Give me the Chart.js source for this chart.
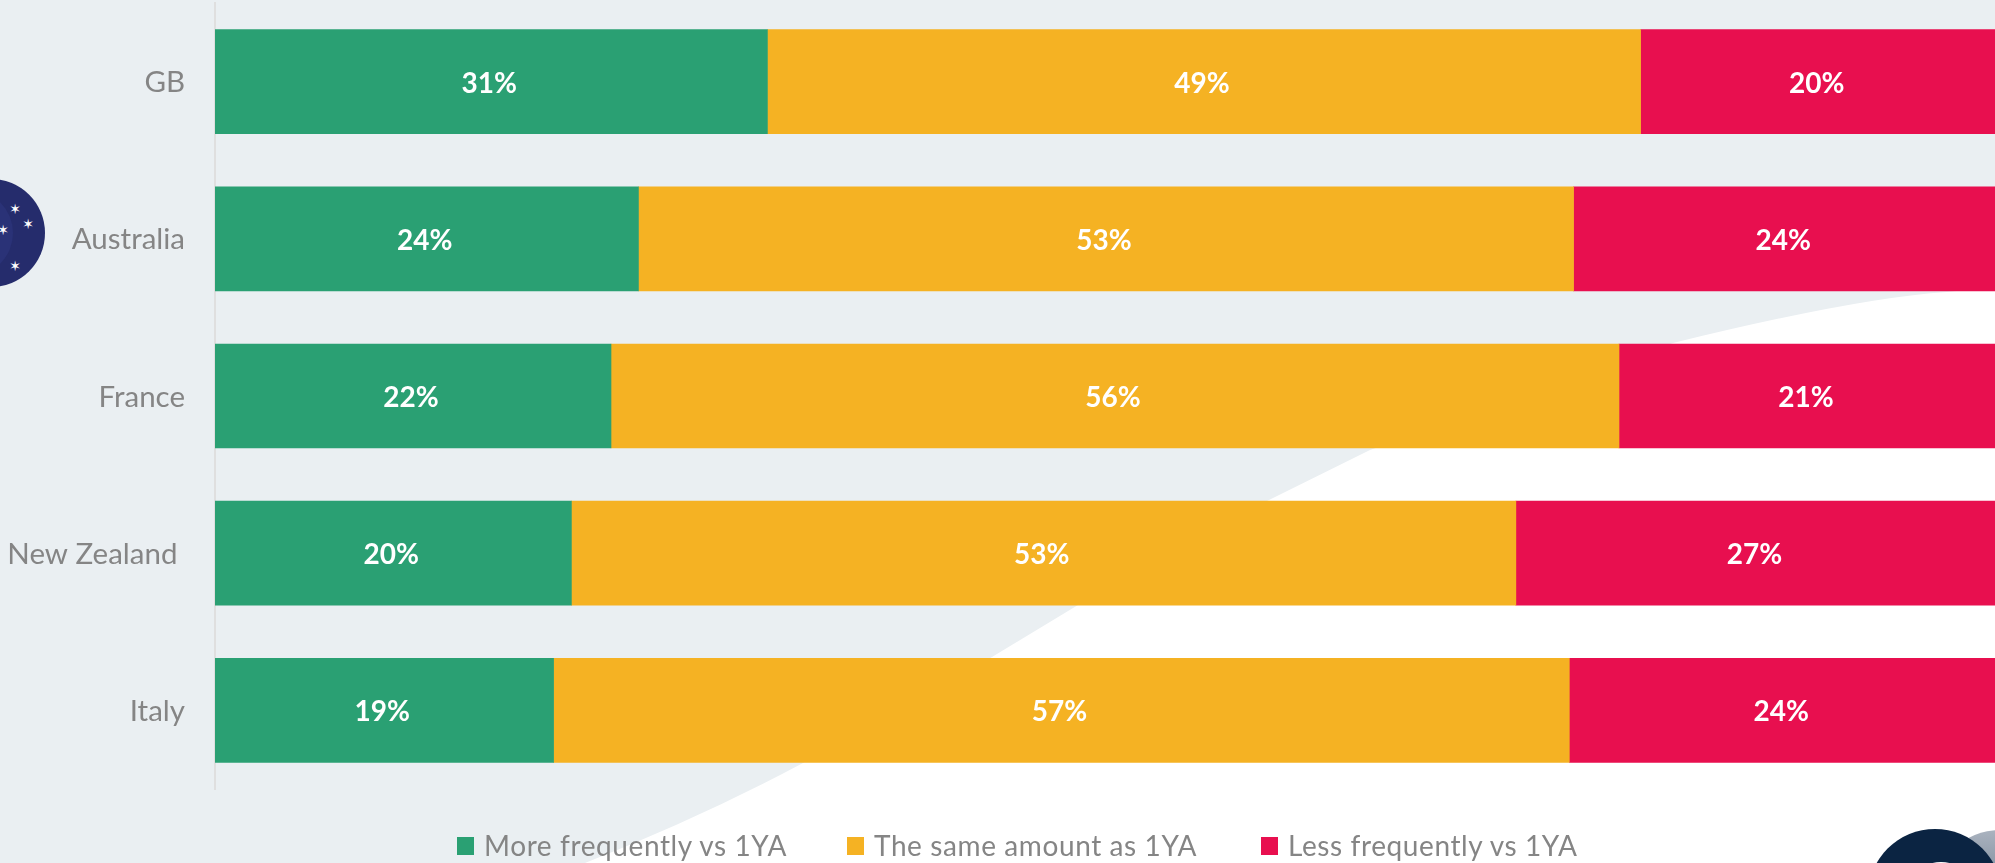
<!DOCTYPE html>
<html>
<head>
<meta charset="utf-8">
<title>Frequency vs 1YA</title>
<script src="https://cdn.jsdelivr.net/npm/chart.js@4/dist/chart.umd.min.js"></script>
<style>
html,body{margin:0;padding:0;width:1995px;height:863px;overflow:hidden;background:#fff;font-family:Lato,sans-serif}
#bg{position:absolute;left:0;top:0}
#wrap{position:absolute;left:0;top:0;width:1995px;height:863px;overflow:hidden}
#chart{position:absolute;left:0;top:0}
#legend{position:absolute;left:0;top:825px;height:40px;white-space:nowrap;font-size:28px;line-height:40px;color:#858585;letter-spacing:.6px}
.item{position:absolute;top:0}
.swatch{position:absolute;top:12px;left:0;width:17px;height:18px}
.txt{position:absolute;top:0;left:27px}
</style>
</head>
<body>
<svg id="bg" width="1995" height="863" viewBox="0 0 1995 863">
  <!-- pale backdrop sweep -->
  <path fill="#eaeff2" d="M0 0H1995V287L1947 292Q1856 298 1673 343L1370 450L1267 501L1078 605L992 657L803 763Q700 818 585 863H0Z"/>
  <!-- round flag next to Australia -->
  <circle cx="-9" cy="233" r="54" fill="#252c6c"/>
  <circle cx="-30" cy="233" r="43" fill="#2a3277"/>
  <g fill="#fff" font-family="DejaVu Sans" font-size="14" text-anchor="middle">
    <text x="15" y="214">✶</text><text x="28" y="229">✶</text><text x="3" y="235">✶</text><text x="15" y="271">✶</text>
  </g>
  <!-- corner logo -->
  <defs><linearGradient id="fade" x1="0" y1="0" x2="0" y2="1"><stop offset="0" stop-color="#aab3bf"/><stop offset="1" stop-color="#3c4f68"/></linearGradient></defs>
  <circle cx="2000" cy="896" r="66" fill="url(#fade)"/>
  <circle cx="1935" cy="896" r="67" fill="#0b2442"/>
  <ellipse cx="1941" cy="868" rx="15" ry="6" fill="#fff"/>
</svg>
<div id="wrap">
  <canvas id="chart" width="1997" height="863"></canvas>
  <div id="legend"></div>
</div>
<script>
const countries=['GB','Australia','France','New Zealand ','Italy'];
const moreOften=[31,24,22,20,19];
const sameAmount=[49,53,56,53,57];
const lessOften=[20,24,21,27,24];

const seriesNames=['More frequently vs 1YA','The same amount as 1YA','Less frequently vs 1YA'];
const seriesColors=['#2aa073','#f5b223','#e80f4f'];
const legendLeft=[457,847,1261];

// rows are 100% stacks: rounded percents can add up to 99 or 101, so each is scaled to its row total
const rowTotal=i=>moreOften[i]+sameAmount[i]+lessOften[i];
const share=arr=>arr.map((v,i)=>v/rowTotal(i)*100);

const raw=[moreOften,sameAmount,lessOften];

// percent text in the middle of each segment
const segmentLabels={
  id:'segmentLabels',
  afterDatasetsDraw(chart){
    const ctx=chart.ctx;
    ctx.save();
    ctx.font='bold 28px Lato';
    ctx.fillStyle='#fff';
    ctx.textAlign='center';
    ctx.textBaseline='middle';
    chart.data.datasets.forEach((ds,d)=>{
      chart.getDatasetMeta(d).data.forEach((bar,i)=>{
        const c=bar.getCenterPoint();
        ctx.fillText(raw[d][i]+'%',c.x-2,c.y+2);
      });
    });
    ctx.restore();
  }
};

new Chart(document.getElementById('chart').getContext('2d'),{
  type:'bar',
  data:{labels:countries,datasets:seriesNames.map((name,d)=>({
    label:name,
    data:share(raw[d]),
    backgroundColor:seriesColors[d],
    barThickness:104,
    borderWidth:0,
  }))},
  options:{
    indexAxis:'y',
    responsive:false,
    animation:false,
    layout:{padding:{top:3,bottom:74,left:0,right:0}},
    plugins:{legend:{display:false},tooltip:{enabled:false}},
    scales:{
      x:{stacked:true,display:false,min:0,max:100},
      y:{
        stacked:true,
        // fixed gutter; tick padding must not eat into the plot height
        afterFit(s){s.width=215;s.paddingTop=0;s.paddingBottom=0;},
        grid:{display:false,drawTicks:false},
        border:{display:true,color:'#dfdfdf',width:2},
        ticks:{color:'#858585',font:{family:'Lato',size:29.5},padding:30,crossAlign:'near',labelOffset:1},
      },
    },
  },
  plugins:[segmentLabels],
});

document.getElementById('legend').innerHTML=seriesNames.map((n,i)=>
  `<div class="item" style="left:${legendLeft[i]}px"><div class="swatch" style="background:${seriesColors[i]}"></div><div class="txt">${n}</div></div>`
).join('');
</script>
</body>
</html>
